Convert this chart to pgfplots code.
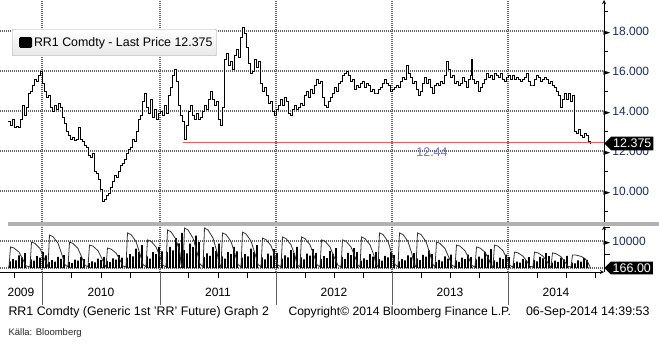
\documentclass[border=0pt]{standalone}
\usepackage{pgfplots}
\pgfplotsset{compat=1.18}
\usepackage{fontspec}
\setmainfont{Liberation Sans}
\newfontfamily\sym{DejaVu Sans}
\usetikzlibrary{shapes.symbols}
\definecolor{lbl}{RGB}{25,45,85}
\definecolor{grd}{RGB}{95,95,95}
\definecolor{gdot}{RGB}{100,100,100}
\definecolor{redl}{RGB}{240,90,90}
\definecolor{lvl}{RGB}{110,110,215}
\newcommand\fs[1]{\fontsize{#1}{#1}\selectfont}
\newcommand\tri{{\sym\fs{9}\textcolor{black}{►}}}
\begin{document}
\begin{tikzpicture}[x=1pt,y=1pt]
\useasboundingbox (0pt,0pt) rectangle (659pt,-343pt);
% ---------------- price panel
\begin{axis}[
  at={(0pt,0pt)}, anchor=north west, scale only axis,
  width=604pt, height=222pt,
  xmin=0, xmax=604, ymin=8.45, ymax=19.55,
  axis x line=bottom, axis y line=right,
  x axis line style={draw=none},
  y axis line style={line width=0.9pt},
  clip=false,
  font=\fs{12},
  xtick={42,160,276,392,508}, xticklabels={},
  ytick={10,12,14,16,18},
  minor ytick={9,11,13,15,17,19},
  yticklabels={\tri\,10.000,\tri\,12.000,\tri\,14.000,\tri\,16.000,\tri\,18.000},
  yticklabel style={text=lbl, xshift=-4pt},
  major tick length=0pt, minor tick length=4pt, tick align=outside,
  tick style={black, line width=0.8pt},
  legend style={at={(rel axis cs:0.0199,0.869)}, anchor=north west,
     draw=gray!70, top color=white, bottom color=gray!18, rounded corners=1pt,
     font=\fs{12.4}, inner xsep=2pt, inner ysep=6pt,
     /tikz/every even column/.append style={column sep=1pt}},
  legend cell align=left,
  legend image code/.code={\path (0pt,0pt); \fill[black] (5pt,-5pt) rectangle (17pt,5pt);},
]
% dotted grid lines at the labelled prices and at the year boundaries
\addplot[color=gdot, dash pattern=on 1pt off 1pt, line width=1.1pt, forget plot] coordinates {(0,10)(604,10)};
\addplot[color=gdot, dash pattern=on 1pt off 1pt, line width=1.1pt, forget plot] coordinates {(0,12)(604,12)};
\addplot[color=gdot, dash pattern=on 1pt off 1pt, line width=1.1pt, forget plot] coordinates {(0,14)(604,14)};
\addplot[color=gdot, dash pattern=on 1pt off 1pt, line width=1.1pt, forget plot] coordinates {(0,16)(604,16)};
\addplot[color=gdot, dash pattern=on 1pt off 1pt, line width=1.1pt, forget plot] coordinates {(0,18)(604,18)};
\addplot[color=gdot, dash pattern=on 1pt off 1pt, line width=1.1pt, forget plot] coordinates {(42,8.45)(42,19.55)};
\addplot[color=gdot, dash pattern=on 1pt off 1pt, line width=1.1pt, forget plot] coordinates {(160,8.45)(160,19.55)};
\addplot[color=gdot, dash pattern=on 1pt off 1pt, line width=1.1pt, forget plot] coordinates {(276,8.45)(276,19.55)};
\addplot[color=gdot, dash pattern=on 1pt off 1pt, line width=1.1pt, forget plot] coordinates {(392,8.45)(392,19.55)};
\addplot[color=gdot, dash pattern=on 1pt off 1pt, line width=1.1pt, forget plot] coordinates {(508,8.45)(508,19.55)};
\addplot[black, line width=0.8pt, const plot] coordinates {
(8,13.5)(10,13.3)(12,13.6)(14,13.2)(16,13.25)(18,13.2)(20,13.6)(22,14.3)(24,13.8)(26,14.2)
(28,14.9)(30,15.0)(32,15.3)(34,15.6)(36,15.5)(38,15.8)(40,16.0)(42,15.4)(44,15.0)(46,14.7)
(48,14.8)(50,14.2)(52,14.0)(54,14.3)(56,14.1)(58,14.4)(60,14.2)(62,13.7)(64,13.4)(66,13.0)
(68,12.8)(70,12.6)(72,12.7)(74,12.55)(76,12.6)(78,13.2)(80,12.6)(82,12.5)(84,12.3)(86,12.2)
(88,11.8)(90,11.7)(92,11.9)(94,11.0)(96,10.9)(98,10.6)(100,10.1)(102,9.5)(104,9.6)(106,9.8)
(108,9.9)(110,10.2)(112,10.5)(114,10.8)(116,10.7)(118,11.0)(120,11.3)(122,11.4)(124,11.6)(126,11.9)
(128,12.1)(130,12.2)(132,12.6)(134,12.5)(136,13.0)(138,13.6)(140,13.8)(142,14.5)(144,14.9)(146,14.2)
(148,13.9)(150,14.6)(152,13.7)(154,14.1)(156,13.6)(158,13.9)(160,14.0)(162,13.8)(164,14.3)(166,13.9)
(168,14.8)(170,15.2)(172,15.8)(174,16.1)(176,15.5)(178,14.3)(180,13.8)(182,13.5)(184,12.6)(186,13.3)
(188,14.0)(190,14.3)(192,13.8)(194,13.6)(196,13.9)(198,13.6)(200,13.7)(202,14.0)(204,14.3)(206,14.1)
(208,14.6)(210,15.0)(212,14.6)(214,14.3)(216,14.5)(218,13.6)(220,13.3)(222,14.2)(224,16.6)(226,16.9)
(228,16.3)(230,16.5)(232,16.1)(234,16.8)(236,17.1)(238,16.7)(240,17.7)(242,18.2)(244,17.9)(246,17.2)
(248,16.4)(250,15.9)(252,16.0)(254,16.6)(256,16.2)(258,16.5)(260,15.4)(262,15.0)(264,15.2)(266,14.8)
(268,14.4)(270,14.5)(272,14.0)(274,13.8)(276,14.1)(278,14.3)(280,14.6)(282,14.3)(284,14.7)(286,14.5)
(288,13.9)(290,13.8)(292,14.1)(294,14.3)(296,14.1)(298,14.2)(300,14.4)(302,14.3)(304,14.8)(306,15.0)
(308,14.7)(310,15.1)(312,14.9)(314,15.3)(316,15.6)(318,15.4)(320,15.5)(322,14.7)(324,14.3)(326,14.2)
(328,14.5)(330,14.7)(332,14.9)(334,15.2)(336,15.0)(338,15.4)(340,15.5)(342,15.8)(344,15.9)(346,16.0)
(348,15.8)(350,15.5)(352,15.6)(354,15.1)(356,15.3)(358,15.2)(360,15.4)(362,15.5)(364,15.2)(366,15.4)
(368,15.3)(370,15.0)(372,15.1)(374,14.9)(376,14.9)(378,15.1)(380,15.2)(382,15.4)(384,15.6)(386,15.4)
(388,15.3)(390,15.0)(392,15.1)(394,15.2)(396,15.3)(398,15.2)(400,15.5)(402,15.7)(404,15.6)(406,16.3)
(408,15.9)(410,15.7)(412,15.4)(414,15.5)(416,15.1)(418,14.8)(420,15.0)(422,15.4)(424,15.7)(426,15.4)
(428,15.6)(430,15.2)(432,14.9)(434,15.3)(436,15.4)(438,15.3)(440,15.5)(442,15.4)(444,15.8)(446,16.5)
(448,16.1)(450,15.7)(452,15.8)(454,15.4)(456,15.5)(458,15.3)(460,15.4)(462,15.7)(464,15.5)(466,15.2)
(468,15.6)(470,15.8)(471,16.6)(472,15.6)(474,15.4)(476,15.5)(478,15.0)(480,15.2)(482,15.4)(484,15.6)
(486,15.9)(488,15.7)(490,15.8)(492,15.6)(494,15.9)(496,15.8)(498,15.7)(500,15.9)(502,15.6)(504,15.5)
(506,15.7)(508,15.8)(510,15.6)(512,15.8)(514,15.6)(516,15.7)(518,15.6)(520,15.5)(522,15.6)(524,15.7)
(526,15.9)(528,15.5)(530,15.3)(532,15.3)(534,15.6)(536,15.8)(538,15.7)(540,15.5)(542,15.6)(544,15.7)
(546,15.6)(548,15.4)(550,15.5)(552,15.3)(554,15.2)(556,15.0)(558,14.8)(560,14.2)(562,14.6)(564,14.9)
(566,14.6)(568,14.9)(570,14.5)(572,14.8)(574,13.0)(576,12.9)(578,13.1)(580,12.8)(582,12.7)(584,12.9)
(586,12.8)(588,12.5)(590,12.375)
};
\addlegendentry{RR1 Comdty - Last Price 12.375}
\addplot[redl, line width=1pt, forget plot] coordinates {(183,12.44) (604,12.44)};
\node[text=lvl, font=\fs{12.5}] at (axis cs:432,11.95) {12.44};
\coordinate (lp) at (axis cs:604,12.375);
\end{axis}
% ---------------- volume panel
\begin{axis}[
  at={(0pt,-226pt)}, anchor=north west, scale only axis,
  width=604pt, height=46pt,
  xmin=0, xmax=604, ymin=-1480, ymax=15556,
  axis x line=bottom, axis y line=right,
  axis line style={line width=0.9pt},
  scaled y ticks=false,
  font=\fs{12},
  xtick={21,101,218,334,450,556},
  xticklabels={2009,2010,2011,2012,2013,2014},
  xticklabel style={yshift=-13pt},
  minor xtick={14,71,101,130,188,218,247,305,334,363,421,450,479,537,566,595},
  extra x ticks={42,160,276,392,508},
  extra x tick labels={},
  extra x tick style={major tick length=33pt, tick style={grd, line width=1pt}},
  ytick={0,10000}, minor ytick={5000,15000},
  yticklabels={,\tri\,10000},
  yticklabel style={text=lbl, xshift=-4pt},
  major tick length=0pt, minor tick length=6pt, tick align=outside,
  tick style={black, line width=0.8pt},
]
\addplot[color=gdot, dash pattern=on 1pt off 1pt, line width=1.1pt, forget plot] coordinates {(0,0)(604,0)};
\addplot[color=gdot, dash pattern=on 1pt off 1pt, line width=1.1pt, forget plot] coordinates {(0,10000)(604,10000)};
\addplot[color=gdot, dash pattern=on 1pt off 1pt, line width=1.1pt, forget plot] coordinates {(42,-1480)(42,15556)};
\addplot[color=gdot, dash pattern=on 1pt off 1pt, line width=1.1pt, forget plot] coordinates {(160,-1480)(160,15556)};
\addplot[color=gdot, dash pattern=on 1pt off 1pt, line width=1.1pt, forget plot] coordinates {(276,-1480)(276,15556)};
\addplot[color=gdot, dash pattern=on 1pt off 1pt, line width=1.1pt, forget plot] coordinates {(392,-1480)(392,15556)};
\addplot[color=gdot, dash pattern=on 1pt off 1pt, line width=1.1pt, forget plot] coordinates {(508,-1480)(508,15556)};
\addplot[ybar, bar width=1.8, fill=black, draw=none] coordinates {
(10,2500)(13,3300)(16,2800)(19,4700)(22,3900)(25,5500)
(31,3200)(34,2700)(37,4400)(40,3800)(43,5900)(46,4700)
(49,2200)(52,2900)(55,2400)(58,4100)(61,3400)(64,4800)
(69,2300)(72,1800)(75,3100)(78,2700)(81,4100)(84,3300)
(89,1800)(92,2500)(95,2100)(98,3500)(101,2900)(104,4100)
(107,2600)(110,2200)(113,3600)(116,3100)(119,4800)(122,3800)
(127,3800)(130,5100)(133,4300)(136,7200)(139,6000)(142,8500)
(147,4300)(150,3500)(153,5900)(156,5100)(159,7800)(162,6200)
(167,5900)(170,7800)(173,6500)(176,11100)(179,9100)(182,13000)
(184,6600)(187,5400)(190,9000)(193,7800)(196,12000)(199,9600)
(204,4100)(207,5400)(210,4500)(213,7700)(216,6300)(219,9000)
(222,4300)(225,3500)(228,5900)(231,5100)(234,7800)(237,6200)
(242,3800)(245,5100)(248,4300)(251,7200)(254,6000)(257,8500)
(262,3900)(265,3200)(268,5300)(271,4600)(274,7000)(277,5600)
(282,3500)(285,4700)(288,3900)(291,6600)(294,5500)(297,7800)
(301,3900)(304,3200)(307,5300)(310,4600)(313,7000)(316,5600)
(321,3300)(324,4400)(327,3700)(330,6300)(333,5200)(336,7400)
(342,4100)(345,3300)(348,5600)(351,4800)(354,7400)(357,5900)
(361,2700)(364,3600)(367,3000)(370,5100)(373,4200)(376,6000)
(379,3300)(382,2700)(385,4500)(388,3900)(391,6000)(394,4800)
(399,2500)(402,3300)(405,2800)(408,4700)(411,3900)(414,5500)
(417,3600)(420,2900)(423,4900)(426,4200)(429,6500)(432,5200)
(436,2300)(439,3000)(442,2500)(445,4300)(448,3500)(451,5000)
(456,2800)(459,2300)(462,3800)(465,3300)(468,5000)(471,4000)
(476,3200)(479,4200)(482,3500)(485,6000)(488,4900)(491,7000)
(494,2800)(497,2300)(500,3800)(503,3300)(506,5000)(509,4000)
(514,1800)(517,2400)(520,2000)(523,3400)(526,2800)(529,4000)
(534,3000)(537,2500)(540,4100)(543,3600)(546,5500)(549,4400)
(552,2000)(555,2700)(558,2300)(561,3800)(564,3200)(567,4500)
(572,2000)(575,1700)(578,2800)(581,2400)(584,3700)(587,3000)(590,166)
};
\addplot[black!80, line width=0.8pt] coordinates {
(8,400)(9,400)(10.5,7800)(14,7400)(19,5900)(23,3100)(26,800)
(30,400)(31.5,9600)(35,9100)(40,7200)(44,3800)(47,1000)
(48,400)(49.5,12200)(53,11600)(58,9200)(62,4900)(65,1200)
(68,400)(69.5,9600)(73,9100)(78,7200)(82,3800)(85,1000)
(88,400)(89.5,8500)(93,8100)(98,6400)(102,3400)(105,900)
(106,400)(107.5,7400)(111,7000)(116,5600)(120,3000)(123,700)
(126,400)(127.5,13000)(131,12400)(136,9800)(140,5200)(143,1300)
(146,400)(147.5,10400)(151,9900)(156,7800)(160,4200)(163,1000)
(166,400)(167.5,14100)(171,13400)(176,10600)(180,5600)(181,1400)
(183,400)(184.5,14800)(188,14100)(193,11100)(197,5900)(200,1500)
(203,400)(204.5,14800)(208,14100)(213,11100)(217,5900)(219,1500)
(221,400)(222.5,13000)(226,12400)(231,9800)(235,5200)(238,1300)
(241,400)(242.5,13300)(246,12600)(251,10000)(255,5300)(258,1300)
(261,400)(262.5,11100)(266,10500)(271,8300)(275,4400)(278,1100)
(281,400)(282.5,11500)(286,10900)(291,8600)(295,4600)(297,1200)
(300,400)(301.5,11500)(305,10900)(310,8600)(314,4600)(317,1200)
(320,400)(321.5,10400)(325,9900)(330,7800)(334,4200)(338,1000)
(341,400)(342.5,10400)(346,9900)(351,7800)(355,4200)(358,1000)
(360,400)(361.5,11500)(365,10900)(370,8600)(374,4600)(376,1200)
(378,400)(379.5,13000)(383,12400)(388,9800)(392,5200)(395,1300)
(398,400)(399.5,13000)(403,12400)(408,9800)(412,5200)(414,1300)
(416,400)(417.5,13000)(421,12400)(426,9800)(430,5200)(433,1300)
(435,400)(436.5,9600)(440,9100)(445,7200)(449,3800)(452,1000)
(455,400)(456.5,8500)(460,8100)(465,6400)(469,3400)(472,900)
(475,400)(476.5,7800)(480,7400)(485,5900)(489,3100)(491,800)
(493,400)(494.5,8500)(498,8100)(503,6400)(507,3400)(510,900)
(513,400)(514.5,5900)(518,5600)(523,4400)(527,2400)(530,600)
(533,400)(534.5,5900)(538,5600)(543,4400)(547,2400)(550,600)
(551,400)(552.5,5600)(556,5300)(561,4200)(565,2200)(568,600)
(571,400)(572.5,4800)(576,4800)(581,4300)(585,3500)(588,2000)(590,500)
};
\coordinate (lv) at (axis cs:604,0);
\end{axis}
\fill[gray!60] (8pt,-222pt) rectangle (659pt,-226pt);
\node[signal, signal to=west, fill=black, text=white, anchor=west, font=\fs{12.5}, inner xsep=2pt, inner ysep=2.5pt] at (lp) {12.375};
\node[signal, signal to=west, fill=black, text=white, anchor=west, font=\fs{12.5}, inner xsep=2pt, inner ysep=2pt] at (lv) {166.00};
\node[anchor=west, font=\fs{12.4}] at (5pt,-312pt) {RR1 Comdty (Generic 1st 'RR' Future) Graph 2};
\node[anchor=west, font=\fs{12.1}] at (285pt,-312pt) {Copyright© 2014 Bloomberg Finance L.P.};
\node[anchor=east, font=\fs{12.4}] at (653pt,-312pt) {06-Sep-2014 14:39:53};
\node[anchor=west, font=\fs{9.5}, text=black!85] at (5pt,-333pt) {Källa: Bloomberg};
\end{tikzpicture}
\end{document}
